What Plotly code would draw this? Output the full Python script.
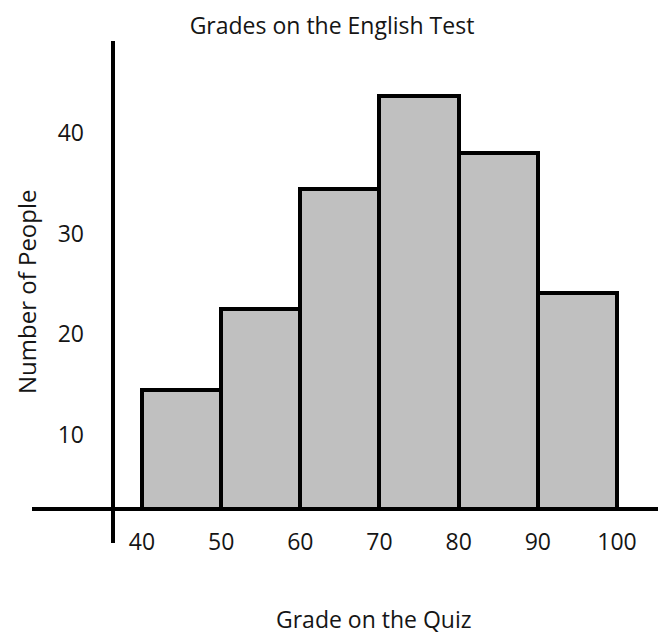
import plotly.graph_objects as go

# Data
bin_starts = [40, 50, 60, 70, 80, 90]
bin_width = 10
counts = [14.4, 22.5, 34.4, 43.7, 38.0, 24.1]
x_tick_values = [40, 50, 60, 70, 80, 90, 100]
x_tick_labels = ["40", "50", "60", "70", "80", "90", "100"]
y_tick_values = [10, 20, 30, 40]
y_tick_labels = ["10", "20", "30", "40"]

title_text = "Grades on the English Test"
x_title = "Grade on the Quiz"
y_title = "Number of People"

FONT = "Open Sans"
TXT = "#151515"

# the page body adds an 8px offset, so the figure is drawn 8px smaller
W, H = 658, 627
OFF = 8
PL, PT, PB = 32 - OFF, 41 - OFF, 509 - OFF  # plot area left/top/bottom in figure px
PW = W - PL
PH = PB - PT

def px_x(xp):
    return (xp - OFF - PL) / PW

def px_y(yp):
    return (PB - (yp - OFF)) / PH

centers = [s + bin_width / 2 for s in bin_starts]

fig = go.Figure(
    go.Bar(
        x=centers,
        y=counts,
        width=[bin_width] * len(counts),
        marker=dict(color="#c0c0c0", line=dict(color="#000000", width=4)),
        hoverinfo="x+y",
    )
)

fig.update_layout(
    width=W,
    height=H,
    margin=dict(l=PL, r=0, t=PT, b=H - PB, pad=0),
    paper_bgcolor="white",
    plot_bgcolor="white",
    showlegend=False,
    bargap=0,
    font=dict(family=FONT, size=23, color=TXT),
    title=dict(
        text=title_text,
        x=(332 - OFF) / W,
        xref="container",
        xanchor="center",
        y=1 - (26 - OFF) / H,
        yref="container",
        yanchor="middle",
        font=dict(family=FONT, size=23, color=TXT),
    ),
    xaxis=dict(
        range=[26.11, 106.19],
        tickvals=x_tick_values,
        ticktext=x_tick_labels,
        showgrid=False,
        zeroline=False,
        showline=False,
        ticks="",
        ticklabelstandoff=17,
        tickfont=dict(family=FONT, size=23, color=TXT),
        fixedrange=True,
    ),
    yaxis=dict(
        range=[2.59, 49.15],
        tickvals=y_tick_values,
        ticktext=y_tick_labels,
        showgrid=False,
        zeroline=False,
        showline=False,
        ticks="",
        anchor="free",
        position=px_x(113),
        ticklabelstandoff=29,
        tickfont=dict(family=FONT, size=23, color=TXT),
        fixedrange=True,
    ),
    shapes=[
        # horizontal axis line
        dict(type="line", xref="paper", yref="paper", x0=0, x1=1, y0=0, y1=0,
             line=dict(color="#000000", width=4), layer="above"),
        # vertical axis line (extends below the horizontal axis)
        dict(type="line", xref="paper", yref="paper",
             x0=px_x(113), x1=px_x(113),
             y0=px_y(543), y1=1,
             line=dict(color="#000000", width=4), layer="above"),
    ],
    annotations=[
        dict(text=x_title, xref="paper", yref="paper",
             x=px_x(374), y=px_y(619),
             xanchor="center", yanchor="middle", showarrow=False,
             font=dict(family=FONT, size=23, color=TXT)),
        dict(text=y_title, xref="paper", yref="paper",
             x=px_x(26), y=px_y(292),
             xanchor="center", yanchor="middle", showarrow=False, textangle=-90,
             font=dict(family=FONT, size=24, color=TXT)),
    ],
)

fig.write_html("out.html", config={"displayModeBar": False})
